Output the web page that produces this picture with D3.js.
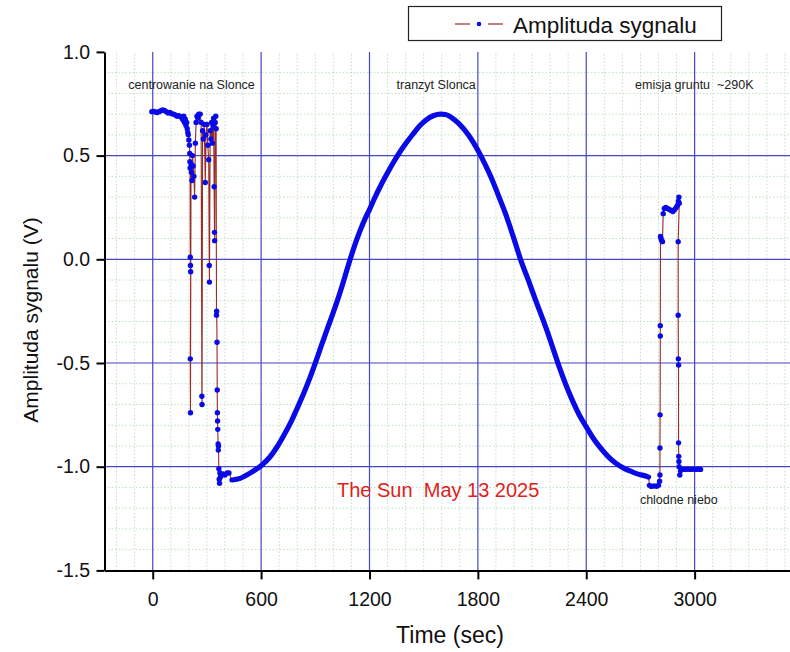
<!DOCTYPE html>
<html><head><meta charset="utf-8">
<script src="https://cdn.jsdelivr.net/npm/d3@7"></script>
<style>
body{margin:0;background:#fff}
svg{display:block}
text{font-family:"Liberation Sans",Arial,sans-serif}
</style>
</head><body>
<svg id="chart" width="790" height="652"></svg>
<script>
// ---- data (time in sec, amplitude in V) ----
const pointingTime = [-5,5,15,25,35,45,55,65,75,85,95,105,115,125,135,145,155,162,168,172,176,180,184,188,191,194,197,200,203,205,206,207,208,209,210,208,209,212,214,217,220,224,228,232,236,240,245,250,255,263,268,272,273,276,280,285,291,295,300,305,310,313,314,318,322,326,330,334,337,340,342,343,346,349,351,353,354,356,357,358,359,360,362,363,364,366,368,370,372,375,380,388,400,412,422];
const pointingAmp  = [0.712,0.713,0.710,0.708,0.712,0.716,0.720,0.718,0.712,0.705,0.708,0.702,0.700,0.696,0.690,0.692,0.688,0.680,0.672,0.690,0.660,0.675,0.645,0.660,0.630,0.612,0.600,0.575,0.55,0.51,0.47,0.44,0.01,-0.03,-0.06,-0.48,-0.74,0.46,0.42,0.38,0.50,0.45,0.40,0.30,0.56,0.66,0.69,0.68,0.70,0.70,0.66,-0.66,-0.70,0.62,0.58,0.65,0.37,0.60,0.65,0.55,0.48,-0.03,-0.11,0.62,0.58,0.66,0.56,0.64,0.68,0.35,0.13,0.09,0.66,0.69,0.63,-0.27,-0.25,-0.40,-0.63,-0.74,-0.78,-0.82,-0.89,-0.92,-0.90,-1.01,-1.06,-1.08,-1.03,-1.05,-1.04,-1.035,-1.04,-1.03,-1.03];

const transitTime = [438,484,504,550,600,650,688,730,771,800,836,870,900,930,964,1000,1029,1060,1093,1120,1148,1175,1200,1230,1259,1300,1333,1370,1406,1440,1480,1520,1553,1593,1620,1660,1695,1750,1800,1840,1879,1915,1953,1995,2036,2080,2119,2160,2193,2220,2249,2285,2322,2360,2400,2435,2470,2520,2562,2610,2655,2692,2729,2745];
const transitAmp  = [-1.064,-1.056,-1.048,-1.025,-0.995,-0.952,-0.905,-0.842,-0.774,-0.718,-0.646,-0.572,-0.5,-0.425,-0.341,-0.255,-0.181,-0.095,0.0,0.072,0.138,0.195,0.240,0.298,0.350,0.417,0.468,0.520,0.564,0.603,0.645,0.676,0.692,0.700,0.698,0.680,0.654,0.597,0.526,0.458,0.384,0.305,0.220,0.112,0.0,-0.102,-0.196,-0.290,-0.370,-0.440,-0.515,-0.600,-0.678,-0.748,-0.808,-0.858,-0.900,-0.950,-0.982,-1.008,-1.025,-1.037,-1.045,-1.05];

const groundTime = [2750,2760,2775,2790,2800,2806,2808,2808,2809,2810,2810,2811,2814,2818,2822,2826,2832,2840,2850,2860,2870,2880,2890,2898,2905,2910,2913,2915,2909,2909,2910,2911,2911,2912,2913,2914,2918,2922,2930,2945,2960,2975,2990,3005,3020,3033];
const groundAmp  = [-1.09,-1.095,-1.093,-1.094,-1.09,-1.07,-1.04,-0.91,-0.75,-0.37,-0.32,0.11,0.10,0.09,0.085,0.22,0.245,0.25,0.245,0.24,0.235,0.23,0.24,0.25,0.26,0.28,0.30,0.27,0.085,-0.27,-0.48,-0.51,-0.885,-0.95,-0.975,-1.0,-1.04,-1.02,-1.013,-1.013,-1.012,-1.013,-1.012,-1.013,-1.012,-1.013];

const xMajorTicks = [0,600,1200,1800,2400,3000];
const yMajorTicks = [1.0,0.5,0.0,-0.5,-1.0,-1.5];
const seriesName = "Amplituda sygnalu";
const xTitle = "Time (sec)";
const yTitle = "Amplituda sygnalu (V)";
const noteTexts = ["centrowanie na Slonce","tranzyt Slonca","emisja gruntu  ~290K","chlodne niebo"];
const noteTimes = [-135,1350,2670,2697];
const noteAmps  = [0.82,0.82,0.82,-1.18];
const titleText = "The Sun  May 13 2025";

// ---- drawing ----
const svg = d3.select("#chart");
const x = d3.scaleLinear().domain([-267,3528]).range([104.5,790]);
const y = d3.scaleLinear().domain([-1.5,1.0]).range([570.4,51.9]);
const [x0,x1] = x.range(), [y0,y1] = y.range();

const xMinor = d3.range(-200,3501,100).filter(d => d % 600 !== 0);
const yMinor = d3.range(-14,10).map(d => d/10).filter(d => Math.abs(Math.round(d*10)) % 5 !== 0);

const grid = svg.append("g");
grid.selectAll(".vmin").data(xMinor).join("line")
  .attr("x1",d=>x(d)).attr("x2",d=>x(d)).attr("y1",y0).attr("y2",y1)
  .attr("stroke","#bfe0c0").attr("stroke-width",1).attr("stroke-dasharray","1.5,2");
grid.selectAll(".hmin").data(yMinor).join("line")
  .attr("x1",x0).attr("x2",x1).attr("y1",d=>y(d)).attr("y2",d=>y(d))
  .attr("stroke","#bfe0c0").attr("stroke-width",1).attr("stroke-dasharray","1.5,2");
grid.selectAll(".vmaj").data(xMajorTicks).join("line")
  .attr("x1",d=>x(d)).attr("x2",d=>x(d)).attr("y1",y0).attr("y2",y1)
  .attr("stroke","#4646c8").attr("stroke-width",1.2);
grid.selectAll(".hmaj").data(yMajorTicks.filter(d=>d>-1.5 && d<1.0)).join("line")
  .attr("x1",x0).attr("x2",x1).attr("y1",d=>y(d)).attr("y2",d=>y(d))
  .attr("stroke","#4646c8").attr("stroke-width",1.2);

// series
const allPts = [];
pointingTime.forEach((t,i)=>allPts.push([t,pointingAmp[i]]));
transitTime.forEach((t,i)=>allPts.push([t,transitAmp[i]]));
groundTime.forEach((t,i)=>allPts.push([t,groundAmp[i]]));
const transitPts = transitTime.map((t,i)=>[t,transitAmp[i]]);
const sparsePts = pointingTime.map((t,i)=>[t,pointingAmp[i]]).concat(groundTime.map((t,i)=>[t,groundAmp[i]]));

svg.append("path").attr("d",d3.line().x(d=>x(d[0])).y(d=>y(d[1]))(allPts)).attr("fill","none")
  .attr("stroke","#9a2a24").attr("stroke-width",1.1);
svg.append("path").attr("d",d3.line().curve(d3.curveMonotoneX).x(d=>x(d[0])).y(d=>y(d[1]))(transitPts)).attr("fill","none")
  .attr("stroke","#0a0ae6").attr("stroke-width",5.2).attr("stroke-linecap","round");
svg.append("g").selectAll("circle").data(sparsePts).join("circle")
  .attr("cx",d=>x(d[0])).attr("cy",d=>y(d[1])).attr("r",2.7).attr("fill","#0a0ae6");

// axes
const xAxis = svg.append("g").attr("transform",`translate(0,${y0})`);
xAxis.call(d3.axisBottom(x).tickValues(xMinor).tickSize(5).tickSizeOuter(0).tickFormat(""));
xAxis.call(d3.axisBottom(x).tickValues(xMajorTicks).tickSize(9).tickSizeOuter(0).tickFormat(d3.format("d")));
xAxis.selectAll("path,line").attr("stroke","#000").attr("stroke-width",2);
xAxis.selectAll("text").attr("font-size","19.5px").attr("font-family","Liberation Sans, Arial, sans-serif")
  .attr("fill","#111").attr("y",22).attr("dy","0.71em");

const yAxis = svg.append("g").attr("transform",`translate(${x0},0)`);
yAxis.call(d3.axisLeft(y).tickValues(yMinor).tickSize(5).tickSizeOuter(0).tickFormat(""));
yAxis.call(d3.axisLeft(y).tickValues(yMajorTicks).tickSize(8).tickSizeOuter(0).tickFormat(d=>d.toFixed(1)));
yAxis.selectAll("path,line").attr("stroke","#000").attr("stroke-width",2);
yAxis.selectAll("text").attr("font-size","19.5px").attr("font-family","Liberation Sans, Arial, sans-serif")
  .attr("fill","#111").attr("x",-14.5);

// titles
svg.append("text").attr("x",450).attr("y",643).attr("text-anchor","middle")
  .attr("font-size","23px").attr("fill","#111").text(xTitle);
svg.append("text").attr("transform","translate(37.5,320) rotate(-90)").attr("text-anchor","middle")
  .attr("font-size","21px").attr("fill","#111").text(yTitle);

// notes
noteTexts.forEach((s,i)=>{
  svg.append("text").attr("x",x(noteTimes[i])).attr("y",y(noteAmps[i]))
    .attr("font-size","12.5px").attr("fill","#222").style("white-space","pre").text(s);
});
svg.append("text").attr("x",337).attr("y",497).attr("font-size","20px").attr("fill","#e01e1e")
  .style("white-space","pre").text(titleText);

// legend
const lg = svg.append("g");
lg.append("rect").attr("x",408.5).attr("y",6.5).attr("width",313).attr("height",34)
  .attr("fill","#fff").attr("stroke","#222").attr("stroke-width",1.2);
lg.append("line").attr("x1",455).attr("x2",470).attr("y1",24).attr("y2",24).attr("stroke","#9a2a24").attr("stroke-width",1.2);
lg.append("line").attr("x1",488).attr("x2",503).attr("y1",24).attr("y2",24).attr("stroke","#9a2a24").attr("stroke-width",1.2);
lg.append("circle").attr("cx",479).attr("cy",24).attr("r",2.3).attr("fill","#0a0ae6");
lg.append("text").attr("x",513).attr("y",33).attr("font-size","22.5px").attr("fill","#111").text(seriesName);
</script>
</body></html>
